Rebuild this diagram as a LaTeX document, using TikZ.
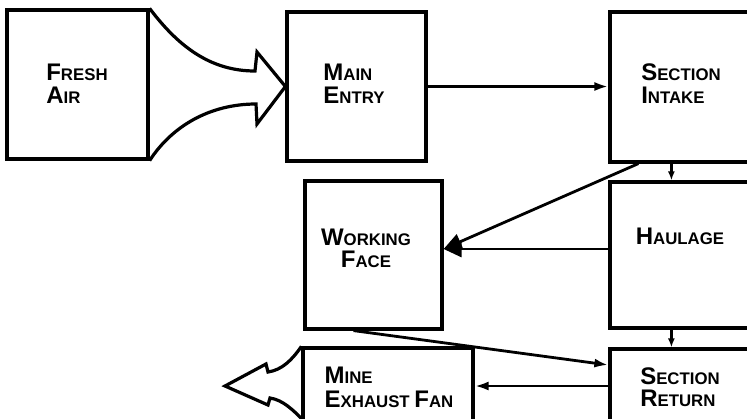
\documentclass[tikz,border=0pt]{standalone}
\usepackage{fontspec}
\setsansfont{Liberation Sans}
\usetikzlibrary{arrows.meta}
\newcommand\SCap[2]{{\fontsize{24}{23}\selectfont #1}{\fontsize{16.8}{23}\selectfont #2}}
\begin{document}
\begin{tikzpicture}[x=1pt,y=-1pt,
  box/.style={draw,line width=3.2pt,inner sep=0pt},
  txt/.style={font=\sffamily\bfseries\fontsize{16.8}{23}\selectfont,inner sep=0pt},
  conn/.style={line width=2.8pt},
  tip/.style={-{Latex[length=14pt,width=9pt]}},
  bigtip/.style={-{Triangle[length=18pt,width=16pt]}},
  bigarrow/.style={line width=3.2pt,line join=miter}]
\useasboundingbox (0,0) rectangle (747,418);
\clip (0,0) rectangle (747,418);
\fill[white] (0,0) rectangle (747,418);
% boxes
\node[box,minimum width=141pt,minimum height=149pt] (fresh) at (77.5,84.5) {};
\node[box,minimum width=139pt,minimum height=149pt] (main) at (356.5,86.5) {};
\node[box,minimum width=142pt,minimum height=150pt] (intake) at (681,87) {};
\node[box,minimum width=137pt,minimum height=148pt] (work) at (373.5,255) {};
\node[box,minimum width=142pt,minimum height=146pt] (haul) at (681,255) {};
\node[box,minimum width=142pt,minimum height=82pt] (ret) at (681,390) {};
\node[box,minimum width=170pt,minimum height=82pt] (fan) at (388,389) {};
% texts
\node[txt,align=left] (freshT) at (77,84) {\SCap{F}{RESH}\\\SCap{A}{IR}};
\node[txt,align=left] (mainT) at (354,84) {\SCap{M}{AIN}\\\SCap{E}{NTRY}};
\node[txt,align=left] (intakeT) at (681,84) {\SCap{S}{ECTION}\\\SCap{I}{NTAKE}};
\node[txt,align=center] (workT) at (366,248) {\SCap{W}{ORKING}\\[-1pt]\SCap{F}{ACE}};
\node[txt] (haulT) at (680,236) {\SCap{H}{AULAGE}};
\node[txt,align=left] (retT) at (680,387) {\SCap{S}{ECTION}\\[-1pt]\SCap{R}{ETURN}};
\node[txt,align=left] (fanT) at (389,387) {\SCap{M}{INE}\\[1pt]\SCap{E}{XHAUST} \SCap{F}{AN}};
% named points
\coordinate (mainOut) at (main.east);
\coordinate (intakeIn) at (main.east -| intake.west);
\coordinate (workIn) at ([yshift=6pt]work.east);
\coordinate (intakeS1) at ([xshift=30pt]intake.south west);
\coordinate (intakeS2) at ([xshift=63pt]intake.south west);
\coordinate (haulN) at (intakeS2 |- haul.north);
\coordinate (haulS) at (intakeS2 |- haul.south);
\coordinate (retN) at (intakeS2 |- ret.north);
\coordinate (haulW) at (workIn -| haul.west);
\coordinate (workS) at ([xshift=-20pt]work.south);
\coordinate (retW1) at ([yshift=25pt]ret.west);
\coordinate (retW2) at ([yshift=4pt]ret.west);
\coordinate (fanE) at (retW2 -| fan.east);
% connectors
\draw[conn,tip] (mainOut) -- (intakeIn);
\draw[conn,bigtip] (intakeS1) -- (workIn);
\draw[conn,bigtip] (haulW) -- (workIn);
\draw[conn,-{Latex[length=9pt,width=7pt]}] (intakeS2) -- (haulN);
\draw[conn,-{Latex[length=9pt,width=7pt]}] (haulS) -- (retN);
\draw[conn,tip] (workS) -- (retW1);
\draw[conn,tip] (retW2) -- (fanE);
% big arrows
\draw[bigarrow] (fresh.north east) .. controls (178,46) and (210,71) .. (255,71)
  -- (257,52) -- (main.west) -- (257,124) -- (256,104)
  .. controls (210,104) and (172,126) .. (fresh.south east);
\draw[bigarrow] (fan.north west) .. controls (292,360) and (282,370) .. (268,372)
  -- (266,364) -- (225,386) -- (268,405) -- (270,398)
  .. controls (283,400) and (293,410) .. (303,420);
\end{tikzpicture}
\end{document}
